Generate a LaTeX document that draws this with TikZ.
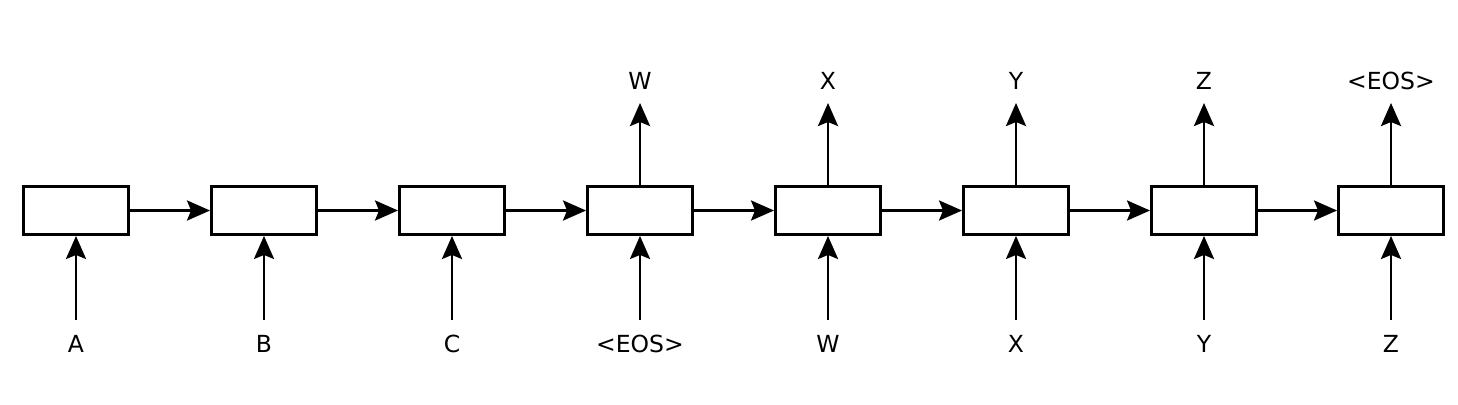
\documentclass[tikz,border=0pt]{standalone}
\usepackage{fontspec}
\setmainfont{DejaVu Sans}
\usetikzlibrary{arrows.meta}
\begin{document}
\begin{tikzpicture}[x=1pt,y=-1pt,
  cell/.style={draw,line width=2.9pt,minimum width=105pt,minimum height=48pt,inner sep=0pt},
  lbl/.style={inner sep=0pt,font=\fontsize{23.5}{26}\selectfont},
  conn/.style={line width=2.9pt,-{Stealth[length=23pt,width=20pt,inset=4pt]}}]
\useasboundingbox (0,0) rectangle (1458,404);
\foreach \i/\x in {1/76,2/264,3/452,4/640,5/828,6/1016,7/1204,8/1391}{
  \node[cell] (c\i) at (\x,210.5) {};
}
\foreach \i/\t in {1/A,2/B,3/C,4/{<EOS>},5/W,6/X,7/Y,8/Z}{
  \node[lbl] (in\i) at ([yshift=-133.5pt]c\i.center) {\t};
  \draw[conn] ([yshift=24pt]in\i.center) -- (c\i.south);
}
\foreach \i/\t in {4/W,5/X,6/Y,7/Z,8/{<EOS>}}{
  \node[lbl] (out\i) at ([yshift=129.5pt]c\i.center) {\t};
  \draw[conn] (c\i.north) -- ([yshift=-22pt]out\i.center);
}
\foreach \i [evaluate=\i as \j using int(\i+1)] in {1,...,7}{
  \draw[conn] (c\i.east) -- (c\j.west);
}
\end{tikzpicture}
\end{document}
